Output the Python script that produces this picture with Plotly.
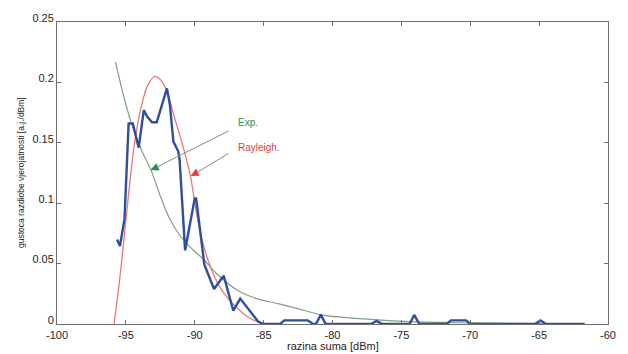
import plotly.graph_objects as go

# Measured noise-level histogram (blue)
meas_x = [-95.64, -95.43, -95.1, -94.93, -94.8, -94.5, -94.07, -93.7, -93.47, -93.1, -92.76,
          -92.02, -91.8, -91.55, -91.2, -91.1, -90.7, -90.0, -89.9, -89.3, -88.6, -87.9,
          -87.2, -86.7, -85.4, -85.0, -84.0, -83.8, -83.5, -81.8, -81.4, -81.2, -80.85,
          -80.5, -77.2, -76.8, -76.4, -74.4, -74.07, -73.7, -71.7, -71.4, -70.3, -70.0,
          -65.3, -64.9, -64.5, -61.7]
meas_y = [0.070, 0.0645, 0.087, 0.140, 0.166, 0.166, 0.146, 0.177, 0.172, 0.167, 0.167,
          0.195, 0.181, 0.151, 0.143, 0.136, 0.061, 0.104, 0.104, 0.049, 0.029, 0.040,
          0.011, 0.021, 0.002, 0.0, 0.0, 0.0, 0.003, 0.003, 0.0, 0.0, 0.0078,
          0.0, 0.0, 0.0025, 0.0, 0.0, 0.0075, 0.0, 0.0, 0.003, 0.003, 0.0,
          0.0, 0.003, 0.0, 0.0]

# Exponential fit (green)
exp_x = [-95.75, -95.3, -94.65, -93.83, -93.2, -92.5, -91.9, -91.3, -90.7, -89.8, -89.4,
         -88.35, -86.9, -85.5, -84.1, -82.6, -80.7, -78.0, -75.3, -72.0, -69.0, -65.0, -61.7]
exp_y = [0.217, 0.195, 0.168, 0.143, 0.128, 0.106, 0.089, 0.077, 0.068, 0.058, 0.054,
         0.041, 0.028, 0.021, 0.0172, 0.013, 0.0073, 0.0045, 0.0024, 0.0013, 0.0008, 0.0004, 0.0002]

# Rayleigh fit (red)
ray_x = [-95.86, -95.5, -95.14, -94.8, -94.43, -94.1, -93.86, -93.4, -92.88, -92.4, -92.0,
         -91.5, -91.0, -90.6, -90.3, -90.0, -89.8, -89.5, -89.1, -88.6, -88.1, -87.5,
         -86.9, -86.3, -85.7, -85.2, -84.7]
ray_y = [0.0, 0.032, 0.070, 0.108, 0.145, 0.168, 0.181, 0.198, 0.205, 0.201, 0.192,
         0.172, 0.153, 0.136, 0.122, 0.100, 0.087, 0.071, 0.055, 0.040, 0.029, 0.020,
         0.013, 0.007, 0.003, 0.001, 0.0]

x_ticks = [-100, -95, -90, -85, -80, -75, -70, -65, -60]
y_ticks = [0, 0.05, 0.1, 0.15, 0.2, 0.25]
y_tick_labels = ["0", "0.05", "0.1", "0.15", "0.2", "0.25"]

fig = go.Figure()
fig.add_trace(go.Scatter(x=exp_x, y=exp_y, mode="lines", line=dict(color="#7f9f86", width=1.2, shape="spline"),
                         name="Exp.", showlegend=False))
fig.add_trace(go.Scatter(x=ray_x, y=ray_y, mode="lines", line=dict(color="#e87a78", width=1.3, shape="spline"),
                         name="Rayleigh.", showlegend=False))
fig.add_trace(go.Scatter(x=meas_x, y=meas_y, mode="lines", line=dict(color="#2d4f9e", width=2.4),
                         name="measured", showlegend=False))

axis_common = dict(showline=True, linecolor="#6e6e6e", linewidth=1, mirror="ticks", ticks="inside",
                   ticklen=4, tickcolor="#6e6e6e", showgrid=False, zeroline=False,
                   tickfont=dict(family="Liberation Sans, Arial", size=11, color="#1e1e1e"))

fig.update_layout(
    width=628, height=354,
    margin=dict(l=57, r=13, t=14, b=30),
    paper_bgcolor="white", plot_bgcolor="white",
    xaxis=dict(range=[-100, -60], tickvals=x_ticks, ticktext=[str(v) for v in x_ticks],
               ticklabelstandoff=1, **axis_common),
    yaxis=dict(range=[0, 0.25], tickvals=y_ticks, ticktext=y_tick_labels, ticklabelshift=-4,
               **axis_common),
    annotations=[
        dict(text="razina suma [dBm]", xref="paper", yref="paper", x=0.5, y=0, yshift=-22,
             xanchor="center", yanchor="middle", showarrow=False,
             font=dict(family="Liberation Sans, Arial", size=11, color="#1e1e1e")),
        dict(text="gustoca razdiobe vjerojatnosti [a.j./dBm]", xref="paper", yref="paper",
             x=0, xshift=-36, y=0.5, xanchor="center", yanchor="middle", textangle=-90,
             showarrow=False, font=dict(family="Liberation Sans, Arial", size=8.5, color="#1e1e1e")),
        # gray leader lines
        dict(x=-93.0, y=0.1285, ax=-87.43, ay=0.1605, xref="x", yref="y", axref="x", ayref="y",
             text="", showarrow=True, arrowhead=0, arrowwidth=1, arrowcolor="#8a8a8a"),
        dict(x=-90.1, y=0.1236, ax=-87.43, ay=0.142, xref="x", yref="y", axref="x", ayref="y",
             text="", showarrow=True, arrowhead=0, arrowwidth=1, arrowcolor="#8a8a8a"),
        # colored arrow heads
        dict(x=-93.21, y=0.1274, ax=-92.7, ay=0.130, xref="x", yref="y", axref="x", ayref="y",
             text="", showarrow=True, arrowhead=2, arrowsize=1, arrowwidth=1.6, arrowcolor="#2e8b57"),
        dict(x=-90.29, y=0.1226, ax=-89.8, ay=0.1256, xref="x", yref="y", axref="x", ayref="y",
             text="", showarrow=True, arrowhead=2, arrowsize=1, arrowwidth=1.6, arrowcolor="#e0403c"),
        dict(text="Exp.", x=-87.0, y=0.1665, xref="x", yref="y", xanchor="left", yanchor="middle",
             showarrow=False, font=dict(family="Liberation Sans, Arial", size=10, color="#2e8b57")),
        dict(text="Rayleigh.", x=-87.0, y=0.1465, xref="x", yref="y", xanchor="left", yanchor="middle",
             showarrow=False, font=dict(family="Liberation Sans, Arial", size=10, color="#e0403c")),
    ],
)

fig.write_html("out.html")
